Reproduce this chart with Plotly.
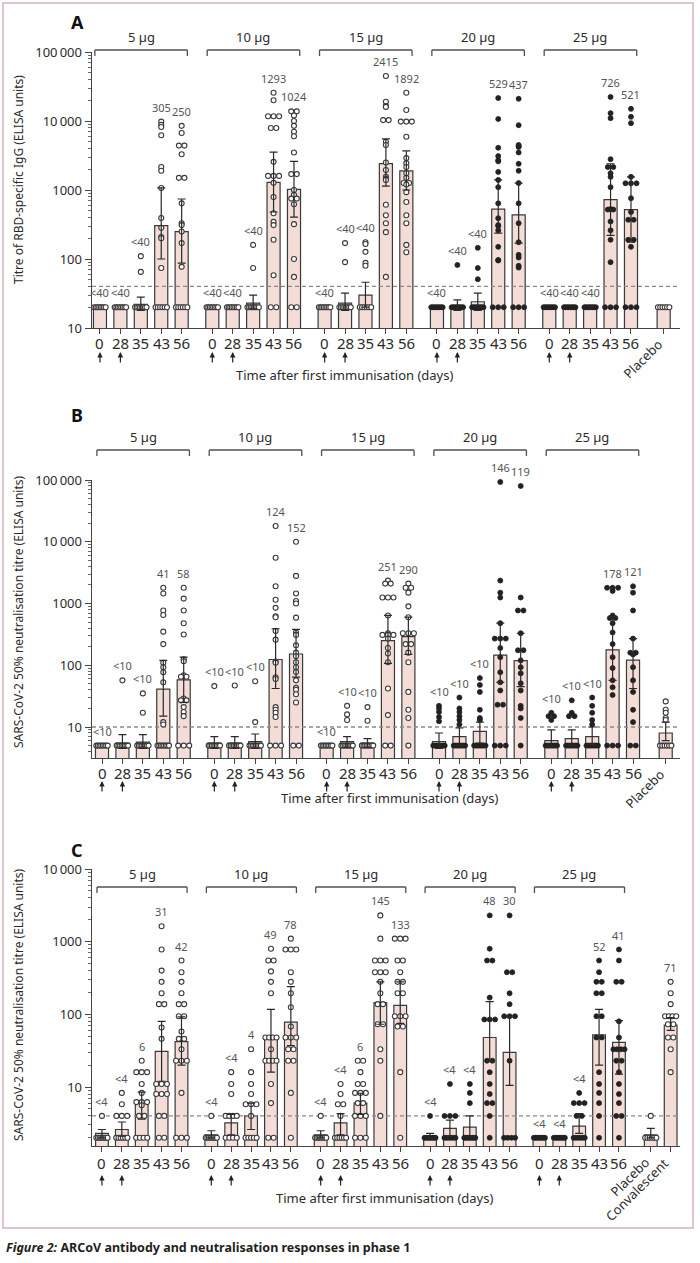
import math
from collections import Counter
import plotly.graph_objects as go

# ------------------------------------------------------------------ data
DAYS = ["0", "28", "35", "43", "56"]
DOSES = ["5 µg", "10 µg", "15 µg", "20 µg", "25 µg"]

# ---- Panel A: RBD-specific IgG
A_GMT = [20, 20, 22, 305, 250,
         20, 20, 23, 1293, 1024,
         20, 23, 30, 2415, 1892,
         20, 21, 24, 529, 437,
         20, 20, 20, 726, 521,
         20]
A_CI_LO = [20, 20, 18, 100, 87,
           20, 20, 19, 480, 405,
           20, 18, 20, 1140, 1000,
           20, 18, 18, 237, 170,
           20, 20, 20, 220, 175,
           20]
A_CI_HI = [20, 20, 28, 1070, 740,
           20, 20, 30, 3550, 2600,
           20, 32, 46, 5500, 3700,
           20, 25.5, 32, 1400, 1260,
           20, 20, 20, 2400, 1550,
           20]
A_LABELS = ["<40", "<40", "<40", "305", "250",
            "<40", "<40", "<40", "1293", "1024",
            "<40", "<40", "<40", "2415", "1892",
            "<40", "<40", "<40", "529", "437",
            "<40", "<40", "<40", "726", "521",
            ""]
A_PTS_5 = [
    [20, 20, 20, 20, 20, 20, 20, 20],
    [20, 20, 20, 20, 20, 20, 20, 20],
    [110, 65, 20, 20, 20, 20, 20, 20, 20, 20],
    [9800, 8800, 8200, 6200, 2150, 1900, 1070, 392, 283, 208, 200, 74, 20, 20, 20, 20, 20, 20],
    [8500, 6700, 4400, 4400, 3300, 1500, 1500, 640, 330, 310, 250, 170, 77, 20, 20, 20, 20, 20, 20],
]
A_PTS_10 = [
    [20, 20, 20, 20, 20, 20, 20, 20],
    [20, 20, 20, 20, 20, 20, 20, 20],
    [160, 74, 20, 20, 20, 20, 20, 20, 20, 20],
    [25700, 20000, 11700, 11700, 11700, 7900, 7900, 2560, 1600, 1600, 1600, 1270, 790, 460, 345, 310, 190, 58, 20, 20],
    [13800, 13800, 12000, 10000, 8500, 7000, 6000, 3500, 1700, 1700, 1000, 850, 750, 750, 620, 320, 100, 55, 20, 20],
]
A_PTS_15 = [
    [20, 20, 20, 20, 20, 20, 20, 20],
    [170, 90, 20, 20, 20, 20, 20, 20, 20, 20],
    [175, 165, 127, 88, 80, 20, 20, 20, 20, 20, 20],
    [45000, 19000, 16500, 16000, 10300, 10300, 5000, 4500, 2500, 1950, 1550, 1450, 1400, 610, 430, 330, 245, 55],
    [25700, 14400, 9800, 9800, 9800, 5900, 2900, 2450, 2150, 1750, 1500, 1260, 1260, 1200, 930, 670, 430, 330, 160, 125],
]
A_PTS_20 = [
    [20, 20, 20, 20, 20, 20, 20, 20],
    [82, 20, 20, 20, 20, 20, 20, 20, 20],
    [145, 74, 51, 20, 20, 20, 20, 20, 20, 20, 20],
    [21500, 10700, 4100, 3100, 2700, 2600, 1830, 1400, 1100, 640, 390, 310, 300, 260, 150, 97, 95, 20, 20, 20],
    [21000, 8700, 4500, 4300, 4200, 3500, 2400, 1900, 1260, 640, 330, 175, 115, 105, 80, 75, 20, 20, 20],
]
A_PTS_25 = [
    [20, 20, 20, 20, 20, 20, 20, 20],
    [20, 20, 20, 20, 20, 20, 20, 20],
    [20, 20, 20, 20, 20, 20, 20, 20],
    [22300, 13000, 11000, 2800, 2150, 2150, 1750, 1550, 1100, 530, 520, 520, 350, 260, 190, 90, 20, 20, 20],
    [15000, 11500, 9300, 1550, 1250, 1250, 1250, 760, 480, 370, 370, 190, 190, 150, 20, 20, 20],
]
A_PTS_EXTRA = [
    [20, 20, 20, 20, 20, 20],
]
A_EXTRA_NAMES = ["Placebo"]

# ---- Panel B: 50% neutralisation (panel B)
B_GMT = [5, 5.5, 5.7, 41, 58,
         5.5, 5.5, 5.8, 124, 152,
         5, 5.8, 5.5, 251, 290,
         5.8, 7, 8.5, 146, 119,
         6, 6.5, 7, 178, 121,
         8]
B_CI_LO = [5, 4.5, 4.5, 15, 25,
           4.5, 4.5, 4.5, 42, 64,
           5, 4.7, 4.7, 107, 150,
           4.5, 5, 5.5, 53, 45,
           4.8, 5, 5.2, 57, 42,
           6]
B_CI_HI = [5, 7.5, 7.5, 120, 135,
           7, 7, 7.7, 390, 380,
           5, 7, 6.5, 640, 600,
           8, 9.7, 12, 480, 330,
           9, 9, 10, 620, 270,
           12]
B_LABELS = ["<10", "<10", "<10", "41", "58",
            "<10", "<10", "<10", "124", "152",
            "<10", "<10", "<10", "251", "290",
            "<10", "<10", "<10", "146", "119",
            "<10", "<10", "<10", "178", "121",
            ""]
B_PTS_5 = [
    [5, 5, 5, 5, 5, 5, 5, 5],
    [57, 5, 5, 5, 5, 5, 5, 5, 5],
    [35, 17, 5, 5, 5, 5, 5, 5, 5, 5],
    [1800, 1450, 770, 650, 350, 220, 110, 93, 77, 53, 12, 11, 5, 5, 5, 5, 5, 5, 5, 5],
    [1800, 1200, 770, 480, 315, 125, 116, 69, 65, 65, 29, 27, 27, 21, 17.5, 15, 5, 5, 5],
]
B_PTS_10 = [
    [46, 5, 5, 5, 5, 5, 5, 5, 5],
    [47, 5, 5, 5, 5, 5, 5, 5, 5],
    [55, 12, 5, 5, 5, 5, 5, 5, 5, 5],
    [18000, 5500, 1900, 1150, 850, 620, 600, 360, 260, 115, 110, 64, 60, 21, 19, 17, 14.5, 5, 5, 5],
    [10000, 2800, 1450, 1100, 1000, 590, 340, 310, 210, 160, 140, 112, 93, 78, 57, 43, 40, 34, 25, 5, 5],
]
B_PTS_15 = [
    [5, 5, 5, 5, 5, 5, 5, 5],
    [22, 16, 13, 5, 5, 5, 5, 5, 5, 5, 5],
    [21, 12.6, 5, 5, 5, 5, 5, 5, 5, 5],
    [2350, 2100, 2100, 1250, 1250, 1250, 640, 330, 310, 310, 310, 270, 190, 155, 112, 42, 15.6, 5, 5],
    [2100, 1800, 1800, 1500, 900, 600, 330, 330, 330, 220, 220, 160, 112, 37, 19, 14, 5],
]
B_PTS_20 = [
    [22, 20, 17.5, 14.5, 12.4, 5, 5, 5, 5, 5, 5, 5, 5],
    [30, 20, 17.5, 15, 13, 11, 5, 5, 5, 5, 5, 5, 5, 5],
    [62, 48, 37, 19, 14, 13, 5, 5, 5, 5, 5, 5, 5, 5],
    [93000, 2350, 1500, 1250, 480, 270, 270, 270, 190, 135, 77, 53, 39, 23, 23, 5, 5, 5],
    [80000, 1250, 770, 770, 330, 175, 175, 120, 93, 74, 51, 39, 22, 20, 14, 5],
]
B_PTS_25 = [
    [17, 15, 15, 13, 5, 5, 5, 5, 5, 5, 5, 5],
    [27, 17, 15, 15, 5, 5, 5, 5, 5, 5, 5, 5],
    [30, 22, 17, 13, 11, 5, 5, 5, 5, 5, 5, 5, 5],
    [1800, 1800, 1800, 1600, 640, 580, 580, 480, 340, 220, 135, 90, 57, 44, 33, 5, 5, 5],
    [1900, 1500, 770, 270, 160, 160, 150, 93, 57, 37, 19, 12, 5, 5],
]
B_PTS_EXTRA = [
    [26, 19, 17, 14, 13, 5, 5, 5, 5, 5, 5],
]
B_EXTRA_NAMES = ["Placebo"]

# ---- Panel C: 50% neutralisation (panel C)
C_GMT = [2.3, 2.6, 6, 31, 42,
         2.2, 3.2, 4, 49, 78,
         2.2, 3.2, 6, 145, 133,
         2.1, 2.7, 2.8, 48, 30,
         2, 2, 2.9, 52, 41,
         2.2, 71]
C_CI_LO = [2, 2.1, 3.6, 12, 20,
           2, 2.2, 2.6, 16, 37,
           2, 2.2, 4.2, 73, 75,
           2, 2.1, 2.1, 23, 10.5,
           2, 2, 2.3, 20, 15,
           2, 60]
C_CI_HI = [2.6, 3.3, 8.5, 80, 92,
           2.5, 4.2, 6, 117, 240,
           2.5, 4.3, 8.2, 280, 280,
           2.3, 3.5, 4, 150, 94,
           2, 2, 4.3, 117, 82,
           2.7, 90]
C_LABELS = ["<4", "<4", "6", "31", "42",
            "<4", "<4", "4", "49", "78",
            "<4", "<4", "6", "145", "133",
            "<4", "<4", "<4", "48", "30",
            "<4", "<4", "<4", "52", "41",
            "", "71"]
C_PTS_5 = [
    [4, 2, 2, 2, 2, 2, 2, 2, 2],
    [8.3, 5.8, 4, 4, 4, 2, 2, 2, 2, 2, 2],
    [23, 16, 16, 16, 11, 8.3, 6.2, 6.2, 6.2, 5.6, 4, 4, 2, 2, 2, 2],
    [1630, 780, 400, 280, 195, 138, 138, 66, 46, 11, 11, 11, 8, 8, 8, 4, 4, 2, 2],
    [550, 380, 280, 195, 138, 138, 94, 94, 58, 46, 46, 33, 23, 23, 23, 8.3, 2, 2, 2],
]
C_PTS_10 = [
    [4, 2, 2, 2, 2, 2, 2, 2, 2],
    [16, 11, 8, 4, 4, 4, 4, 2, 2, 2, 2],
    [33, 16, 11, 8, 5.8, 5.8, 5.8, 4, 2, 2, 2, 2, 2],
    [800, 550, 550, 390, 280, 195, 48, 48, 48, 48, 33, 23, 23, 23, 23, 11, 6, 2, 2],
    [1100, 780, 780, 780, 380, 280, 195, 125, 68, 48, 48, 48, 33, 33, 23, 23, 8.3, 2],
]
C_PTS_15 = [
    [4, 2, 2, 2, 2, 2, 2, 2, 2],
    [11, 8, 5.8, 5.8, 4, 2, 2, 2, 2, 2, 2],
    [23, 23, 16, 11, 11, 8.3, 8.3, 8.3, 6, 6, 4, 4, 4, 2, 2, 2],
    [2300, 1100, 550, 550, 550, 380, 380, 380, 280, 195, 138, 138, 73, 73, 33, 23, 4],
    [1100, 1100, 1100, 550, 550, 380, 280, 280, 195, 195, 94, 94, 94, 68, 68, 16, 2],
]
C_PTS_20 = [
    [4, 2, 2, 2, 2, 2, 2, 2, 2],
    [11, 4, 4, 4, 2, 2, 2, 2, 2, 2],
    [11, 8.3, 6, 2, 2, 2, 2, 2, 2, 2, 2],
    [2300, 800, 550, 550, 170, 85, 85, 85, 23, 23, 16, 11, 8, 6, 6, 4, 2],
    [2300, 380, 380, 195, 138, 94, 94, 94, 23, 2, 2, 2, 2],
]
C_PTS_25 = [
    [2, 2, 2, 2, 2, 2, 2, 2],
    [2, 2, 2, 2, 2, 2, 2, 2],
    [8.3, 6, 6, 6, 4, 4, 2, 2, 2, 2, 2, 2],
    [550, 380, 280, 280, 195, 195, 94, 94, 48, 48, 16, 11, 8.3, 6, 4, 2],
    [780, 550, 280, 280, 80, 48, 33, 33, 33, 33, 23, 23, 16, 11, 8, 6, 4, 4, 2],
]
C_PTS_EXTRA = [
    [4, 2, 2, 2, 2, 2, 2],
    [280, 195, 138, 94, 94, 94, 94, 73, 73, 48, 48, 33, 16],
]
C_EXTRA_NAMES = ["Placebo", "Convalescent"]

Y_TICKS_AB = [10, 100, 1000, 10000, 100000]
Y_TICKS_C = [10, 100, 1000, 10000]
Y_TICKTEXT_AB = ["10", "100", "1000", "10\u2009000", "100\u2009000"]
Y_TICKTEXT_C = ["10", "100", "1000", "10\u2009000"]
TITLE_A = "Titre of RBD-specific IgG (ELISA units)"
TITLE_BC = "SARS-CoV-2 50% neutralisation titre (ELISA units)"
X_TITLE = "Time after first immunisation (days)"
CAPTION = "<b><i>Figure 2:</i> ARCoV antibody and neutralisation responses in phase 1</b>"

# ------------------------------------------------------------------ style / layout helpers
W, H = 700, 1263
FONT = "Noto Sans"
BAR_FILL = "#f3ddd6"
EDGE = "#3a3a3a"
AX = "#444444"
TXT = "#2b2b2b"
LBL = "#555555"
GROUP_STEP = 5.5
EXTRA_START = 27.6
BAR_W = 0.64


def py(p):
    return 1 - p / H


def swarm(vals, center, spread=0.56, step=0.27):
    xs, ys = [], []
    for v, n in Counter(vals).items():
        if n == 1:
            offs = [0.0]
        else:
            span = min(spread, step * (n - 1))
            offs = [-span / 2 + span * k / (n - 1) for k in range(n)]
        for o in offs:
            xs.append(center + o)
            ys.append(v)
    return xs, ys


panels = [
    dict(letter="A", gm=A_GMT, lo=A_CI_LO, hi=A_CI_HI, labels=A_LABELS,
         pts=A_PTS_5 + A_PTS_10 + A_PTS_15 + A_PTS_20 + A_PTS_25 + A_PTS_EXTRA,
         extra=A_EXTRA_NAMES, lod=40, yrange=[1, 5], ybot=328, ytop=52,
         xrange=[-0.39, 28.4], yticks=Y_TICKS_AB, yticktext=Y_TICKTEXT_AB,
         ytitle=TITLE_A, ytitle_y=180, bracket_y=50, letter_y=22, xtitle_x=344,
         tick_dy=15, arrow_dy=24, title_dy=47),
    dict(letter="B", gm=B_GMT, lo=B_CI_LO, hi=B_CI_HI, labels=B_LABELS,
         pts=B_PTS_5 + B_PTS_10 + B_PTS_15 + B_PTS_20 + B_PTS_25 + B_PTS_EXTRA,
         extra=B_EXTRA_NAMES, lod=10, yrange=[0.498, 5], ybot=758, ytop=480,
         xrange=[-0.49, 28.3], yticks=Y_TICKS_AB, yticktext=Y_TICKTEXT_AB,
         ytitle=TITLE_BC, ytitle_y=612, bracket_y=450, letter_y=415, xtitle_x=389,
         tick_dy=15, arrow_dy=23, title_dy=40),
    dict(letter="C", gm=C_GMT, lo=C_CI_LO, hi=C_CI_HI, labels=C_LABELS,
         pts=C_PTS_5 + C_PTS_10 + C_PTS_15 + C_PTS_20 + C_PTS_25 + C_PTS_EXTRA,
         extra=C_EXTRA_NAMES, lod=4, yrange=[0.188, 4], ybot=1146, ytop=869,
         xrange=[-0.5, 29.07], yticks=Y_TICKS_C, yticktext=Y_TICKTEXT_C,
         ytitle=TITLE_BC, ytitle_y=1005, bracket_y=887, letter_y=850, xtitle_x=384,
         tick_dy=17, arrow_dy=29, title_dy=52),
]

fig = go.Figure()
annotations = []
shapes = []
layout_axes = {}

for k, P in enumerate(panels):
    sfx = "" if k == 0 else str(k + 1)
    xa, ya = "x" + sfx, "y" + sfx
    n_ext = len(P["extra"])
    pos = [g * GROUP_STEP + i for g in range(5) for i in range(5)]
    pos += [EXTRA_START + j for j in range(n_ext)]
    nb = len(pos)

    # bars (geometric means)
    fig.add_trace(go.Bar(x=pos, y=P["gm"], width=BAR_W, xaxis=xa, yaxis=ya,
                         marker=dict(color=BAR_FILL, line=dict(color=EDGE, width=1.2)),
                         showlegend=False, hoverinfo="skip"))
    # LOD dashed line
    fig.add_trace(go.Scatter(x=P["xrange"], y=[P["lod"], P["lod"]], mode="lines",
                             xaxis=xa, yaxis=ya, showlegend=False, hoverinfo="skip",
                             line=dict(color="#8a8a8a", width=1.3, dash="4px,3px")))
    # individual points
    ox, oy, fx, fy = [], [], [], []
    for b in range(nb):
        xs, ys = swarm(P["pts"][b], pos[b])
        filled = b < 25 and (b // 5) >= 3
        if filled:
            fx += xs; fy += ys
        else:
            ox += xs; oy += ys
    fig.add_trace(go.Scatter(x=ox, y=oy, mode="markers", xaxis=xa, yaxis=ya,
                             showlegend=False, hoverinfo="skip", cliponaxis=False,
                             marker=dict(size=5, color="white", line=dict(color="#3a3a3a", width=1.1))))
    fig.add_trace(go.Scatter(x=fx, y=fy, mode="markers", xaxis=xa, yaxis=ya,
                             showlegend=False, hoverinfo="skip", cliponaxis=False,
                             marker=dict(size=5, color="#222222", line=dict(color="#222222", width=0.8))))
    # error bars (95% CI)
    ex, ey, eu, el = [], [], [], []
    for b in range(nb):
        if P["hi"][b] > P["lo"][b]:
            ex.append(pos[b]); ey.append(P["gm"][b])
            eu.append(P["hi"][b] - P["gm"][b]); el.append(P["gm"][b] - P["lo"][b])
    fig.add_trace(go.Scatter(x=ex, y=ey, mode="markers", xaxis=xa, yaxis=ya,
                             showlegend=False, hoverinfo="skip",
                             marker=dict(size=1, color="rgba(0,0,0,0)"),
                             error_y=dict(type="data", symmetric=False, array=eu, arrayminus=el,
                                          color="#2a2a2a", thickness=1.2, width=4)))
    # value labels
    for b in range(nb):
        if not P["labels"][b]:
            continue
        top = max(max(P["pts"][b]), P["hi"][b], P["gm"][b])
        annotations.append(dict(x=pos[b], y=math.log10(top), xref=xa, yref=ya,
                                text=P["labels"][b], showarrow=False, xanchor="center", yanchor="bottom",
                                yshift=5, font=dict(size=11, color=LBL)))
    # day tick labels
    for b in range(25):
        annotations.append(dict(x=pos[b], y=py(P["ybot"] + P["tick_dy"]), xref=xa, yref="paper",
                                text=DAYS[b % 5], showarrow=False, xanchor="center", yanchor="middle",
                                font=dict(size=15, color=TXT)))
    # dose brackets
    by = py(P["bracket_y"])
    for g in range(5):
        x0 = g * GROUP_STEP - 0.25
        x1 = g * GROUP_STEP + 4 + 0.28
        line = dict(color="#505050", width=1.3)
        shapes.append(dict(type="line", xref=xa, yref="paper", x0=x0, x1=x1, y0=by, y1=by, line=line))
        shapes.append(dict(type="line", xref=xa, yref="paper", x0=x0, x1=x0, y0=by, y1=py(P["bracket_y"] + 6), line=line))
        shapes.append(dict(type="line", xref=xa, yref="paper", x0=x1, x1=x1, y0=by, y1=py(P["bracket_y"] + 6), line=line))
        annotations.append(dict(x=(x0 + x1) / 2, y=by, xref=xa, yref="paper", text=DOSES[g],
                                showarrow=False, xanchor="center", yanchor="bottom", yshift=2,
                                font=dict(size=13, color=TXT)))
        # immunisation arrows under day 0 and day 28
        for i in (0, 1):
            annotations.append(dict(x=g * GROUP_STEP + i, y=py(P["ybot"] + P["arrow_dy"]), xref=xa, yref="paper",
                                    text="", showarrow=True, ax=0, ay=12, arrowhead=2, arrowsize=0.9,
                                    arrowwidth=1.2, arrowcolor="#222222"))
    # rotated placebo / convalescent labels
    for j, name in enumerate(P["extra"]):
        annotations.append(dict(x=EXTRA_START + j + 0.25, y=py(P["ybot"] + 5), xref=xa, yref="paper",
                                text=name, showarrow=False, textangle=-45, xanchor="right",
                                yanchor="top", font=dict(size=13, color=TXT)))
    # panel letter, axis titles
    annotations.append(dict(x=77 / W, y=py(P["letter_y"]), xref="paper", yref="paper", text="<b>%s</b>" % P["letter"],
                            showarrow=False, xanchor="center", yanchor="middle",
                            font=dict(size=18, color="#111111")))
    annotations.append(dict(x=18 / W, y=py(P["ytitle_y"]), xref="paper", yref="paper", text=P["ytitle"],
                            showarrow=False, textangle=-90, xanchor="center", yanchor="middle",
                            font=dict(size=12, color=TXT)))
    annotations.append(dict(x=P["xtitle_x"] / W, y=py(P["ybot"] + P["title_dy"]), xref="paper", yref="paper",
                            text=X_TITLE, showarrow=False, xanchor="center", yanchor="middle",
                            font=dict(size=13, color=TXT)))

    layout_axes["xaxis" + sfx] = dict(domain=[92 / W, 680 / W], range=P["xrange"], anchor=ya,
                                      automargin=False,
                                      showline=True, linecolor=AX, linewidth=1.4, ticks="outside",
                                      ticklen=5, tickwidth=1, tickcolor=AX, tickmode="array",
                                      tickvals=pos, ticktext=[""] * nb, showgrid=False, zeroline=False,
                                      showticklabels=False, fixedrange=True)
    layout_axes["yaxis" + sfx] = dict(domain=[py(P["ybot"]), py(P["ytop"])], type="log", range=P["yrange"],
                                      anchor=xa, automargin=False, showline=True, linecolor=AX, linewidth=1.4,
                                      ticks="outside", ticklen=6, tickwidth=1, tickcolor=AX,
                                      tickmode="array", tickvals=P["yticks"], ticktext=P["yticktext"],
                                      showgrid=False, zeroline=False, tickfont=dict(size=13, color=TXT),
                                      fixedrange=True,
                                      minor=dict(ticks="outside", ticklen=3, tickwidth=0.8, tickcolor=AX,
                                                 dtick="D1", showgrid=False))

# frame and caption
shapes.append(dict(type="rect", xref="paper", yref="paper", x0=3 / W, x1=693 / W, y0=py(1228), y1=py(3),
                   line=dict(color="#d6b2bc", width=1.5)))
annotations.append(dict(x=4 / W, y=py(1247), xref="paper", yref="paper", text=CAPTION, showarrow=False,
                        xanchor="left", yanchor="middle", font=dict(size=12.5, color="#231f20")))

fig.update_layout(template="none", width=W, height=H, margin=dict(l=0, r=0, t=0, b=0, pad=0),
                  paper_bgcolor="white", plot_bgcolor="rgba(0,0,0,0)",
                  font=dict(family=FONT, color=TXT), barmode="overlay",
                  annotations=annotations, shapes=shapes, showlegend=False, **layout_axes)

# the page body gets no default margin so the 700x1263 figure fills the window exactly
fig.write_html("out.html", config={"displayModeBar": False, "staticPlot": True},
               post_script="document.body.style.margin='0px';")
